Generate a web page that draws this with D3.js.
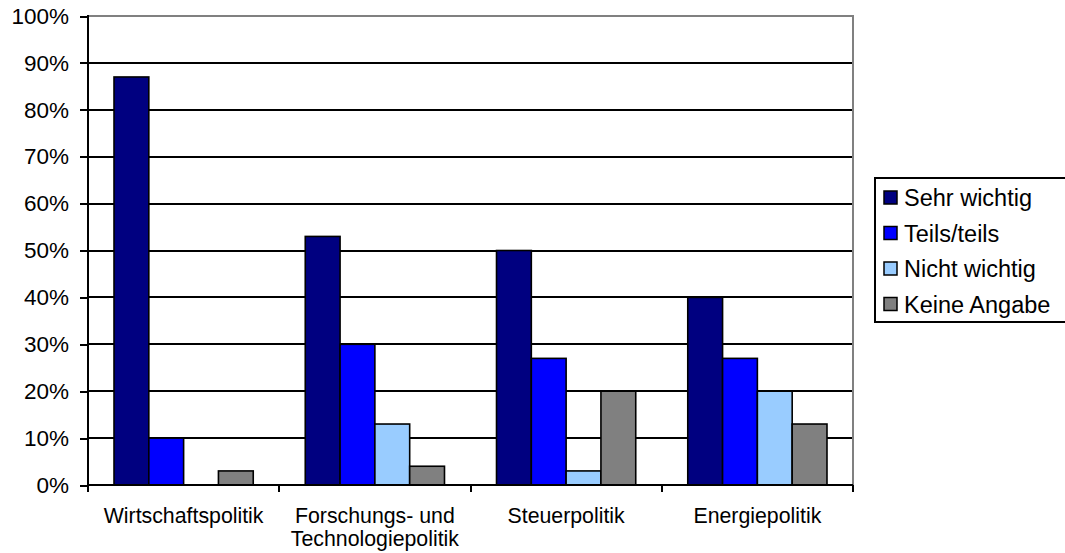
<!DOCTYPE html>
<html><head><meta charset="utf-8">
<script src="https://cdn.jsdelivr.net/npm/d3@7"></script>
<style>body{margin:0;background:#fff;} text{font-family:"Liberation Sans",Arial,sans-serif;fill:#000;}</style>
</head><body>
<svg id="c" width="1065" height="553"></svg>
<script>
const categories = [["Wirtschaftspolitik"], ["Forschungs- und", "Technologiepolitik"], ["Steuerpolitik"], ["Energiepolitik"]];
const seriesNames = ["Sehr wichtig", "Teils/teils", "Nicht wichtig", "Keine Angabe"];
const seriesColors = ["#000080", "#0000FF", "#99CCFF", "#808080"];
const sehrWichtig = [87, 53, 50, 40];
const teilsTeils = [10, 30, 27, 27];
const nichtWichtig = [0, 13, 3, 20];
const keineAngabe = [3, 4, 20, 13];
const yTicks = [0, 10, 20, 30, 40, 50, 60, 70, 80, 90, 100];

const series = [sehrWichtig, teilsTeils, nichtWichtig, keineAngabe];
const svg = d3.select("#c");
const L = 88, R = 853, T = 16, B = 485;

const x0 = d3.scaleBand().domain(d3.range(categories.length)).range([L, R]).paddingInner(0.272).paddingOuter(0.136);
const x1 = d3.scaleBand().domain(d3.range(series.length)).range([0, x0.bandwidth()]);
const y = d3.scaleLinear().domain([0, 100]).range([B, T]);

// gridlines
svg.append("g").selectAll("line").data(yTicks.filter(t => t > 0 && t < 100)).join("line")
  .attr("x1", L).attr("x2", R).attr("y1", d => Math.round(y(d))).attr("y2", d => Math.round(y(d)))
  .attr("stroke", "#000").attr("stroke-width", 2).attr("shape-rendering", "crispEdges");
// top and right border
svg.append("path").attr("d", `M${L},${y(100)}H${R}V${B}`).attr("fill", "none").attr("stroke", "#808080").attr("stroke-width", 2).attr("shape-rendering", "crispEdges");

// bars
const g = svg.append("g");
categories.forEach((c, ci) => {
  series.forEach((s, si) => {
    g.append("rect")
      .attr("x", x0(ci) + x1(si)).attr("width", x1.bandwidth())
      .attr("y", y(s[ci])).attr("height", B - y(s[ci]))
      .attr("fill", seriesColors[si]).attr("stroke", "#000").attr("stroke-width", 1.6);
  });
});

// y axis
const yAxis = d3.axisLeft(y).tickValues(yTicks).tickFormat(d => d + "%").tickSize(8).tickPadding(11);
const ya = svg.append("g").attr("transform", `translate(${L},0)`).call(yAxis);
ya.select(".domain").remove();
ya.selectAll(".tick line").attr("stroke", "#000").attr("stroke-width", 2).attr("shape-rendering", "crispEdges");
ya.selectAll("text").attr("font-size", 22.5).attr("font-family", "Liberation Sans, Arial, sans-serif").attr("fill", "#000");
svg.append("line").attr("x1", L).attr("x2", L).attr("y1", T - 1).attr("y2", B + 7).attr("stroke", "#000").attr("stroke-width", 2).attr("shape-rendering", "crispEdges");

// x axis
svg.append("line").attr("x1", L).attr("x2", R).attr("y1", B).attr("y2", B).attr("stroke", "#000").attr("stroke-width", 2).attr("shape-rendering", "crispEdges");
const xb = d3.scaleLinear().domain([0, categories.length]).range([L, R]);
svg.append("g").selectAll("line").data(d3.range(categories.length + 1)).join("line")
  .attr("x1", d => xb(d)).attr("x2", d => xb(d)).attr("y1", B).attr("y2", B + 7)
  .attr("stroke", "#000").attr("stroke-width", 2).attr("shape-rendering", "crispEdges");
const xl = svg.append("g");
categories.forEach((c, ci) => {
  const cx = x0(ci) + x0.bandwidth() / 2;
  const t = xl.append("text").attr("text-anchor", "middle").attr("font-size", 21.3).attr("x", cx).attr("y", 523);
  c.forEach((line, li) => t.append("tspan").attr("x", cx).attr("y", 523 + li * 23).text(line));
});

// legend
const lg = svg.append("g");
lg.append("rect").attr("x", 875).attr("y", 178).attr("width", 195).attr("height", 144)
  .attr("fill", "#fff").attr("stroke", "#000").attr("stroke-width", 2);
seriesNames.forEach((n, i) => {
  const cy = 198 + i * 35.5;
  lg.append("rect").attr("x", 884).attr("y", cy - 7).attr("width", 13).attr("height", 13)
    .attr("fill", seriesColors[i]).attr("stroke", "#000").attr("stroke-width", 1.5);
  lg.append("text").attr("x", 904).attr("y", cy + 8).attr("font-size", 23.5).text(n);
});
</script>
</body></html>
